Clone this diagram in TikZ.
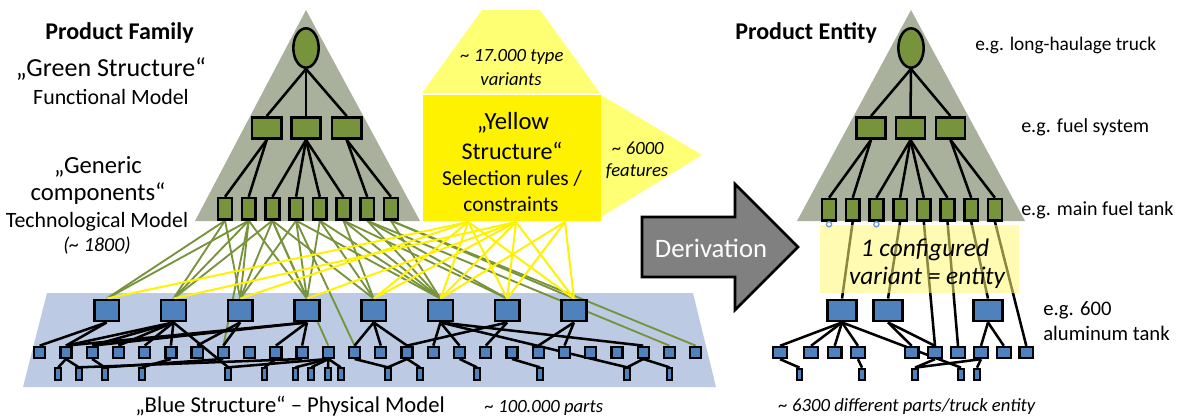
\documentclass[tikz,border=0pt]{standalone}
\usepackage{fontspec}
\setmainfont{Carlito}
\usetikzlibrary{shapes.geometric}
\definecolor{sage}{HTML}{A9B19C}
\definecolor{leaf}{HTML}{77933C}
\definecolor{steel}{HTML}{4F81BD}
\definecolor{band}{HTML}{BCCBE3}
\definecolor{paleyel}{HTML}{FFFF73}
\definecolor{arrowgray}{HTML}{808080}
\newcommand{\fs}[1]{\fontsize{#1}{#1}\selectfont}
\tikzset{
  root/.style={ellipse, draw=black, line width=1.9pt, fill=leaf, minimum width=19pt, minimum height=29.5pt, inner sep=0pt},
  gmid/.style={rectangle, draw=black, line width=1.9pt, fill=leaf, minimum width=22pt, minimum height=16pt, inner sep=0pt},
  gleaf/.style={rectangle, draw=black, line width=1.9pt, fill=leaf, minimum width=10.3pt, minimum height=16pt, inner sep=0pt},
  bbig/.style={rectangle, draw=black, line width=1.9pt, fill=steel, minimum width=18.5pt, minimum height=16pt, inner sep=0pt},
  bbigr/.style={rectangle, draw=black, line width=1.9pt, fill=steel, minimum width=22pt, minimum height=16pt, inner sep=0pt},
  bsmall/.style={rectangle, draw=black, line width=1.7pt, fill=steel, minimum width=8.3pt, minimum height=8.3pt, inner sep=0pt},
  bsmallr/.style={rectangle, draw=black, line width=1.7pt, fill=steel, minimum width=10.3pt, minimum height=8.3pt, inner sep=0pt},
  btiny/.style={rectangle, draw=black, line width=1.5pt, fill=steel, minimum width=4.4pt, minimum height=8.5pt, inner sep=0pt},
  tree/.style={draw=black, line width=1.9pt},
  glink/.style={draw=leaf, line width=1.4pt},
  ylink/.style={draw=yellow, line width=1.5pt},
  lbl/.style={inner sep=0pt, text=black},
}
\begin{document}
\begin{tikzpicture}[x=0.75pt,y=-0.75pt]
\useasboundingbox (0,0) rectangle (1180,419);

% ---------- background shapes ----------
\fill[sage] (195,221) -- (306,10) -- (420,221) -- cycle;
\fill[sage] (797,221) -- (911,10) -- (1025,221) -- cycle;
\fill[paleyel] (422,93) -- (482,10) -- (540,10) -- (600,93) -- cycle;
\fill[paleyel] (601,95) -- (702,155) -- (601,217) -- cycle;
\fill[yellow] (422.5,95) rectangle (601,221);
\fill[band] (23,387) -- (47,293) -- (693,293) -- (716,387) -- cycle;

% ---------- derivation arrow ----------
\draw[line width=1.9pt, fill=arrowgray, line join=miter]
  (642,217) -- (735,217) -- (735,184) -- (798,247) -- (735,310) -- (735,277) -- (642,277) -- cycle;
\node[lbl, text=white, font=\fs{20}] (deriv) at (711,248) {Derivation};

% ---------- product family: green tree ----------
\node[root] (lroot) at (306,48) {};
\foreach \i/\x in {1/266.7,2/306,3/346.7} \node[gmid] (lm\i) at (\x,128) {};
\foreach \i in {1,...,8} \node[gleaf] (lc\i) at ({225+23.7*(\i-1)},208.7) {};

% ---------- blue structure nodes ----------
\foreach \i in {1,...,8} \node[bbig] (b\i) at ({106.7+66.75*(\i-1)},310.5) {};
\foreach \i in {1,...,26} \node[bsmall] (s\i) at ({39.7+26.24*(\i-1)},352.3) {};
\foreach \x [count=\i] in {58.3,78.8,104.7,142.2,228.3,264.5,295.5,311.3,328,340.8,387.8,420,477,540,627.2,669.5}
  \node[btiny] (t\i) at (\x,374) {};

\coordinate (ya) at (468.3,222);
\coordinate (yb) at (516,222);
\coordinate (yc) at (565,222);

% green links: generic components -> physical parts
\foreach \a/\b in {1/1,1/2,1/3,2/1,2/2,2/3,2/4,3/2,3/3,3/4,3/5,4/3,4/4,4/6,5/4,5/5,5/6,6/5,6/6,6/7,7/6,7/7,8/6,8/8}
  \draw[glink] (lc\a.south) -- (b\b.north);
\foreach \a/\b in {2/8,3/12,4/13,7/25,8/26}
  \draw[glink] (lc\a.south) -- (s\b.north);

% yellow links: selection rules -> physical parts
\foreach \b in {1,3,5,6,7,8} \draw[ylink] (ya) -- (b\b.north);
\foreach \b in {2,4,5,6,7,8} \draw[ylink] (yb) -- (b\b.north);
\foreach \b in {6,7,8} \draw[ylink] (yc) -- (b\b.north);

% tree edges
\foreach \i in {1,2,3} \draw[tree] (lroot.south) -- (lm\i.north);
\foreach \i in {1,2} \draw[tree] (lm1.south) -- (lc\i.north);
\foreach \i in {3,4,5,6} \draw[tree] (lm2.south) -- (lc\i.north);
\foreach \i in {7,8} \draw[tree] (lm3.south) -- (lc\i.north);

% physical structure edges
\foreach \a/\b in {1/1,1/2,2/2,2/3,2/4,2/5,2/6,3/7,3/8,4/2,4/3,4/10,4/11,5/13,5/14,5/15,6/16,6/17,6/24,7/15,7/18,8/20,8/21}
  \draw[tree] (b\a.south) -- (s\b.north);
\draw[tree] (b2.south) -- (t5.north);
\draw[tree] (b6.south) -- (t15.north);
\foreach \a/\b in {2/1,2/2,3/3,6/4,10/6,12/7,12/8,12/9,12/10,13/11,15/11,15/12,17/13,19/14,24/15,24/16}
  \draw[tree] (s\a.south) -- (t\b.north);
\draw[tree] (t2.north) -- (s11.south);
\draw[tree] (t3.north) -- (s8.south);
\draw[tree] (t5.north) -- (s12.south);

% redraw nodes above the links
\foreach \i in {1,...,8} \node[bbig] at (b\i) {};
\foreach \i in {1,...,26} \node[bsmall] at (s\i) {};
\foreach \x in {58.3,78.8,104.7,142.2,228.3,264.5,295.5,311.3,328,340.8,387.8,420,477,540,627.2,669.5}
  \node[btiny] at (\x,374) {};
\foreach \i in {1,...,8} \node[gleaf] at (lc\i) {};
\foreach \i/\x in {1/266.7,2/306,3/346.7} \node[gmid] at (\x,128) {};

% ---------- product entity: right tree ----------
\node[root] (rroot) at (911,48) {};
\foreach \i/\x in {1/871,2/910.5,3/950.5} \node[gmid] (rm\i) at (\x,128) {};
\foreach \i in {1,...,8} \node[gleaf] (rc\i) at ({829+23.7*(\i-1)},209.7) {};
\foreach \i/\x in {1/842,2/888,3/988} \node[bbigr] (rb\i) at (\x,310.5) {};
\foreach \x [count=\i] in {780,811,834.7,858,911.7,935,958,981,1003.8,1026.3}
  \node[bsmallr] (rs\i) at (\x,352.5) {};
\foreach \x [count=\i] in {799.5,862,915,961,977}
  \node[btiny] (rt\i) at (\x,374.3) {};

\foreach \i in {1,2,3} \draw[tree] (rroot.south) -- (rm\i.north);
\foreach \i in {1,2} \draw[tree] (rm1.south) -- (rc\i.north);
\foreach \i in {3,4,5,6} \draw[tree] (rm2.south) -- (rc\i.north);
\foreach \i in {7,8} \draw[tree] (rm3.south) -- (rc\i.north);
\draw[tree] (rc2.south) -- (rb1.north);
\draw[tree] (rc4.south) -- (rb2.north);
\draw[tree] (rc7.south) -- (rb3.north);
\draw[tree] (rc5.south) -- (rs6.north);
\draw[tree] (rc6.south) -- (rs7.north);
\draw[tree] (rc8.south) -- (rs10.north);
\foreach \a/\b in {1/1,1/2,1/3,1/4,2/5,2/6,3/8,3/9}
  \draw[tree] (rb\a.south) -- (rs\b.north);
\draw[tree] (rb1.south) -- (rt4.north);
\foreach \a/\b in {1/1,4/2,6/3,8/3,8/5}
  \draw[tree] (rs\a.south) -- (rt\b.north);

\foreach \i/\x in {1/842,2/888,3/988} \node[bbigr] at (\x,310.5) {};
\foreach \x in {780,811,834.7,858,911.7,935,958,981,1003.8,1026.3} \node[bsmallr] at (\x,352.5) {};
\foreach \x in {799.5,862,915,961,977} \node[btiny] at (\x,374.3) {};
\foreach \i in {1,...,8} \node[gleaf] at (rc\i) {};

% configured variant overlay
\fill[yellow!55!white, opacity=0.55] (820,225) rectangle (1019,293);
\draw[steel!80!white, line width=1pt] (rc1.south) ++(0,2.6) circle (2.6);
\draw[steel!80!white, line width=1pt] (rc3.south) ++(0,2.6) circle (2.6);

% ---------- texts ----------
\node[lbl, anchor=west, font=\bfseries\fs{18}] (pfam) at (45,33) {Product Family};
\node[lbl, font=\fs{19.5}] (green) at (111,69) {„Green Structure“};
\node[lbl, font=\fs{16.4}] (func) at (111,97) {Functional Model};
\node[lbl, font=\fs{18.5}] (gen1) at (98,167) {„Generic};
\node[lbl, font=\fs{18.5}] (gen2) at (98,194) {components“};
\node[lbl, font=\fs{16.4}] (tech) at (97,222) {Technological Model};
\node[lbl, font=\itshape\fs{15}] (n1800) at (97,246) {(\textasciitilde{} 1800)};

\node[lbl, font=\itshape\fs{14}] (tv1) at (512,57) {\textasciitilde{} 17.000 type};
\node[lbl, font=\itshape\fs{14}] (tv2) at (511,79) {variants};
\node[lbl, font=\fs{18.5}] (ys1) at (513,123) {„Yellow};
\node[lbl, font=\fs{18}] (ys2) at (512,151) {Structure“};
\node[lbl, font=\fs{16}] (ys3) at (512,179) {Selection rules /};
\node[lbl, font=\fs{16}] (ys4) at (511,204) {constraints};
\node[lbl, font=\itshape\fs{14}] (ft1) at (638,148) {\textasciitilde{} 6000};
\node[lbl, font=\itshape\fs{14}] (ft2) at (637,171) {features};

\node[lbl, anchor=west, font=\fs{17}] (blue) at (135,406)
  {„Blue Structure“ – Physical Model\hspace{30pt}{\itshape\fs{14}\textasciitilde{} 100.000 parts}};

\node[lbl, anchor=west, font=\bfseries\fs{18}] (pent) at (735,33) {Product Entity};
\node[lbl, anchor=west, font=\fs{14.5}] (eg1) at (975,45) {e.g. long-haulage truck};
\node[lbl, anchor=west, font=\fs{15}] (eg2) at (1021,127) {e.g. fuel system};
\node[lbl, anchor=west, font=\fs{15}] (eg3) at (1021,210) {e.g. main fuel tank};
\node[lbl, anchor=west, font=\fs{15.5}] (eg4) at (1043,310) {e.g. 600};
\node[lbl, anchor=west, font=\fs{15.5}] (eg5) at (1043,333) {aluminum tank};
\node[lbl, font=\itshape\fs{19}] (cv1) at (925,250) {1 configured};
\node[lbl, font=\itshape\fs{19}] (cv2) at (927,278) {variant = entity};
\node[lbl, font=\itshape\fs{14}] (parts) at (907,407) {\textasciitilde{} 6300 different parts/truck entity};
\end{tikzpicture}
\end{document}
